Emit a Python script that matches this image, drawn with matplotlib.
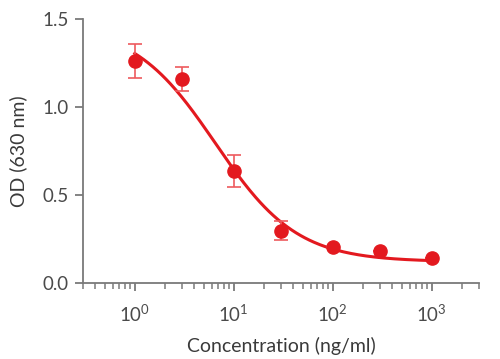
import numpy as np
import matplotlib

matplotlib.use("Agg")
import matplotlib.pyplot as plt
from matplotlib.ticker import LogLocator, NullFormatter

# measured points
conc = [1, 3, 10, 30, 100, 300, 1000]
od = [1.26, 1.16, 0.635, 0.297, 0.203, 0.180, 0.142]
od_err = [0.097, 0.067, 0.090, 0.055, 0.0, 0.0, 0.0]

# 4PL fit parameters (bottom, top, EC50, hill)
fit_bottom = 0.12
fit_top = 1.47
fit_ec50 = 6.5
fit_hill = 1.05

RED = "#E3191F"
AXIS_GREY = "#7a7a7a"
TEXT_GREY = "#4a4a4a"

plt.rcParams["font.family"] = ["Lato", "DejaVu Sans"]
plt.rcParams["mathtext.default"] = "regular"

fig = plt.figure(figsize=(5.0, 3.59), dpi=100)
ax = fig.add_axes([0.166, 0.212, 0.792, 0.735])

xs = np.logspace(0, 3, 200)
curve = fit_bottom + (fit_top - fit_bottom) / (1 + (xs / fit_ec50) ** fit_hill)
ax.plot(xs, curve, color=RED, lw=2.2, zorder=2)

ax.errorbar(
    conc, od, yerr=od_err, fmt="o", color=RED, ms=9.5, ecolor="#ee5a5e",
    elinewidth=1.2, capsize=5, capthick=1.2, zorder=3,
)

ax.set_xscale("log")
ax.set_xlim(0.3, 3000)
ax.set_ylim(0, 1.5)
ax.set_yticks([0.0, 0.5, 1.0, 1.5])
ax.set_yticklabels(["0.0", "0.5", "1.0", "1.5"])
ax.xaxis.set_major_locator(LogLocator(base=10, numticks=10))
ax.xaxis.set_minor_locator(LogLocator(base=10, subs=np.arange(2, 10), numticks=20))
ax.xaxis.set_minor_formatter(NullFormatter())

for side in ["top", "right"]:
    ax.spines[side].set_visible(False)
for side in ["left", "bottom"]:
    ax.spines[side].set_color(AXIS_GREY)
    ax.spines[side].set_linewidth(1.3)

ax.tick_params(axis="both", which="major", color=AXIS_GREY, width=1.3, length=6,
               labelsize=13.5, labelcolor=TEXT_GREY, pad=4)
ax.tick_params(axis="x", which="major", pad=9)
ax.tick_params(axis="x", which="minor", color=AXIS_GREY, width=1.1, length=4)

ax.set_xlabel("Concentration (ng/ml)", fontsize=14, color="#3a3a3a", labelpad=9)
ax.set_ylabel("OD (630 nm)", fontsize=14, color="#3a3a3a", labelpad=11)

fig.savefig("out.png", dpi=100)
